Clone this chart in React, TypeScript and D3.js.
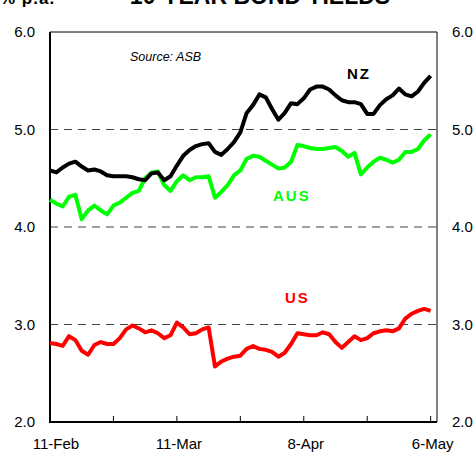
import React, { useEffect, useRef } from "react";
import * as d3 from "d3";

// business-day series, 11-Feb .. 6-May
const nz = [4.58, 4.56, 4.61, 4.65, 4.67, 4.62, 4.58, 4.59, 4.57, 4.53, 4.52, 4.52, 4.52, 4.51, 4.49, 4.48, 4.55, 4.56, 4.48, 4.52,
  4.63, 4.73, 4.79, 4.83, 4.85, 4.86, 4.77, 4.74, 4.80, 4.87, 4.97, 5.17, 5.25, 5.36, 5.33, 5.21, 5.10, 5.17, 5.27, 5.26,
  5.32, 5.41, 5.44, 5.44, 5.41, 5.35, 5.30, 5.28, 5.28, 5.26, 5.16, 5.16, 5.25, 5.31, 5.35, 5.42, 5.36, 5.34, 5.39, 5.48, 5.55];
const aus = [4.28, 4.24, 4.21, 4.31, 4.33, 4.08, 4.17, 4.22, 4.17, 4.13, 4.22, 4.25, 4.30, 4.35, 4.37, 4.50, 4.56, 4.57, 4.43, 4.37,
  4.47, 4.53, 4.48, 4.51, 4.51, 4.52, 4.30, 4.36, 4.43, 4.53, 4.58, 4.70, 4.73, 4.72, 4.68, 4.64, 4.60, 4.61, 4.67, 4.84,
  4.83, 4.81, 4.80, 4.80, 4.81, 4.82, 4.78, 4.72, 4.76, 4.54, 4.61, 4.67, 4.71, 4.69, 4.66, 4.69, 4.77, 4.77, 4.80, 4.89, 4.95];
const us = [2.81, 2.80, 2.78, 2.88, 2.84, 2.73, 2.69, 2.79, 2.82, 2.80, 2.80, 2.86, 2.95, 2.99, 2.96, 2.92, 2.94, 2.91, 2.86, 2.89,
  3.02, 2.97, 2.90, 2.91, 2.95, 2.97, 2.57, 2.62, 2.65, 2.67, 2.68, 2.75, 2.78, 2.75, 2.74, 2.72, 2.67, 2.71, 2.80, 2.91,
  2.90, 2.89, 2.89, 2.92, 2.90, 2.82, 2.76, 2.82, 2.88, 2.84, 2.86, 2.91, 2.93, 2.94, 2.93, 2.96, 3.06, 3.11, 3.14, 3.16, 3.14];

const tickIdx = [0, 10, 20, 30, 40, 50, 60];
const dateLabels: [number, string][] = [[0, "11-Feb"], [20, "11-Mar"], [40, "8-Apr"], [60, "6-May"]];
const yTicks = [2, 3, 4, 5, 6];
const gridLines = [3, 4, 5];

const W = 474, H = 454;
const left = 50, right = 437, top = 32, bottom = 422;

export default function App() {
  const ref = useRef<SVGSVGElement>(null);

  useEffect(() => {
    const svg = d3.select(ref.current!);
    svg.selectAll("*").remove();
    const font = "'Liberation Sans', Arial, sans-serif";

    const x = d3.scaleLinear().domain([0, 61]).range([left, right]);
    const y = d3.scaleLinear().domain([2, 6]).range([bottom, top]);

    // dashed gridlines
    svg.append("g").selectAll("line").data(gridLines).enter().append("line")
      .attr("x1", left).attr("x2", right)
      .attr("y1", d => y(d)).attr("y2", d => y(d))
      .attr("stroke", "#444").attr("stroke-width", 1).attr("stroke-dasharray", "8,6");

    // frame
    svg.append("line").attr("x1", left).attr("x2", right).attr("y1", top).attr("y2", top)
      .attr("stroke", "#000").attr("stroke-width", 1);
    svg.append("line").attr("x1", right).attr("x2", right).attr("y1", top).attr("y2", bottom)
      .attr("stroke", "#000").attr("stroke-width", 1);
    svg.append("line").attr("x1", left).attr("x2", left).attr("y1", top).attr("y2", bottom + 1)
      .attr("stroke", "#000").attr("stroke-width", 2);
    svg.append("line").attr("x1", left).attr("x2", right).attr("y1", bottom).attr("y2", bottom)
      .attr("stroke", "#000").attr("stroke-width", 2);

    // x ticks
    svg.append("g").selectAll("line").data(tickIdx).enter().append("line")
      .attr("x1", d => x(d)).attr("x2", d => x(d))
      .attr("y1", bottom).attr("y2", bottom - 6)
      .attr("stroke", "#000").attr("stroke-width", 1);

    svg.append("g").selectAll("text").data(dateLabels).enter().append("text")
      .attr("x", d => (d[0] === 0 ? x(d[0]) + 6 : x(d[0]) + 2))
      .attr("y", 449)
      .attr("text-anchor", "middle")
      .attr("font-family", font).attr("font-size", 15)
      .text(d => d[1]);

    // y labels both sides
    svg.append("g").selectAll("text").data(yTicks).enter().append("text")
      .attr("x", 35).attr("y", d => y(d) + 5)
      .attr("text-anchor", "end")
      .attr("font-family", font).attr("font-size", 15)
      .text(d => d.toFixed(1));
    svg.append("g").selectAll("text").data(yTicks).enter().append("text")
      .attr("x", 452).attr("y", d => y(d) + 5)
      .attr("font-family", font).attr("font-size", 15)
      .text(d => d.toFixed(1));

    // series
    const line = d3.line<number>().x((_, i) => x(i)).y(d => y(d)).curve(d3.curveLinear);
    const series: [number[], string][] = [[us, "#ff0000"], [aus, "#00ff00"], [nz, "#000000"]];
    series.forEach(([data, color]) => {
      svg.append("path").datum(data)
        .attr("d", line)
        .attr("fill", "none").attr("stroke", color).attr("stroke-width", 4)
        .attr("stroke-linejoin", "round");
    });

    // titles and labels (top edge cropped as in the original)
    svg.append("text").attr("x", 260).attr("y", 4).attr("text-anchor", "middle")
      .attr("font-family", font).attr("font-size", 23).attr("font-weight", "bold")
      .text("10-YEAR BOND YIELDS");
    svg.append("text").attr("x", 0).attr("y", 4)
      .attr("font-family", font).attr("font-size", 17).attr("font-weight", "bold")
      .attr("letter-spacing", 1)
      .text("% p.a.");
    svg.append("text").attr("x", 130).attr("y", 61)
      .attr("font-family", font).attr("font-size", 12.5).attr("font-style", "italic")
      .text("Source: ASB");

    const tags: [string, number, number, string][] = [
      ["NZ", 347, 79, "#000"], ["AUS", 273, 201, "#00ff00"], ["US", 285, 303, "#ff0000"],
    ];
    svg.append("g").selectAll("text").data(tags).enter().append("text")
      .attr("x", d => d[1]).attr("y", d => d[2])
      .attr("font-family", font).attr("font-size", 15).attr("font-weight", "bold")
      .attr("letter-spacing", 2)
      .attr("fill", d => d[3])
      .text(d => d[0]);
  }, []);

  return (
    <svg ref={ref} width={W} height={H}
      style={{ position: "absolute", left: 0, top: 0, background: "#fff" }} />
  );
}
